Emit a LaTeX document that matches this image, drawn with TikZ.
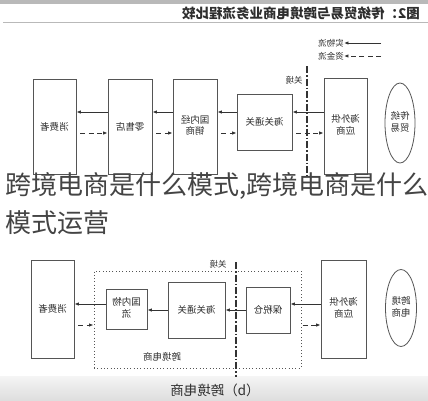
\documentclass[tikz,border=0pt]{standalone}
\usepackage{fontspec}
\usepackage{graphicx}
\usetikzlibrary{arrows.meta,shapes.geometric}
\newfontfamily\cjk{Noto Sans CJK SC}
\newcommand{\mr}[1]{\reflectbox{#1}}
\newcommand{\mrr}[2]{\reflectbox{\begin{tabular}{@{}c@{}}#1\\#2\end{tabular}}}
\definecolor{boxc}{HTML}{555555}
\definecolor{linec}{HTML}{333333}
\definecolor{txtc}{HTML}{2E2E2E}
\definecolor{bigc}{HTML}{444444}
\begin{document}
\begin{tikzpicture}[x=1pt,y=-1pt,
  box/.style={draw=boxc, line width=0.8pt, inner sep=0pt, text=txtc,
    font=\cjk\fontsize{9.5}{11.5}\selectfont},
  ellbox/.style={ellipse, draw=boxc, line width=0.8pt, inner sep=0pt, text=txtc,
    font=\cjk\fontsize{9.5}{11.5}\selectfont},
  sarr/.style={draw=linec, line width=0.9pt, -{Latex[length=4.5pt,width=3.5pt]}},
  darr/.style={sarr, dash pattern=on 5pt off 3.5pt},
  border/.style={draw=linec, line width=1.2pt, dash pattern=on 7pt off 2pt on 1.5pt off 2pt},
  dotbox/.style={draw=boxc, line width=1pt, dash pattern=on 0.9pt off 2.4pt, inner sep=0pt},
  lbl/.style={text=txtc, inner sep=0pt, font=\cjk\fontsize{8.5}{10}\selectfont},
  big/.style={text=bigc, inner sep=0pt, anchor=west, font=\cjk\fontsize{26}{30}\selectfont}
]
\useasboundingbox (0,0) rectangle (428,400);
\fill[white] (0,0) rectangle (428,400);

% header
\fill[gray!55] (0,0) rectangle (428,3.5);
\draw[gray!55, line width=1pt] (3,22) -- (428,22);
\node[text=txtc, inner sep=0pt, font=\cjk\bfseries\fontsize{13.5}{15}\selectfont] (title) at (301,13) {\mr{图2：传统贸易与跨境电商业务流程比较}};

% legend
\node[lbl] (lg1) at (331,43) {\mr{实物流}};
\node[lbl] (lg2) at (331,56) {\mr{资金流}};
\coordinate (lg1e) at (381,43);
\coordinate (lg2e) at (381,56);
\draw[sarr] (lg1e) -- (lg1.east);
\draw[darr] (lg2e) -- (lg2.east);

% ---------- top diagram ----------
\node[box, minimum width=43, minimum height=95] (cons1) at (54.5,126.5) {\mr{消费者}};
\node[box, minimum width=44, minimum height=95] (ret) at (130,126.5) {\mr{零售店}};
\node[box, minimum width=44, minimum height=95] (dom) at (195,126.5) {\mrr{国内经}{销商}};
\node[box, minimum width=55, minimum height=56] (cust1) at (264.5,122) {\mr{海关通关}};
\node[box, minimum width=43, minimum height=96] (sup1) at (345.5,126) {\mrr{海外供}{应商}};
\node[ellbox, minimum width=30, minimum height=80] (ell1) at (400,123) {\mrr{传统}{贸易}};

\coordinate (ys1) at (0,112);
\coordinate (yd1) at (0,133);
\draw[sarr] (ret.west |- ys1) -- (cons1.east |- ys1);
\draw[sarr] (dom.west |- ys1) -- (ret.east |- ys1);
\draw[sarr] (cust1.west |- ys1) -- (dom.east |- ys1);
\draw[sarr] (sup1.west |- ys1) -- (cust1.east |- ys1);
\draw[darr, shorten <=4pt] (cons1.east |- yd1) -- (ret.west |- yd1);
\draw[darr, shorten <=4pt] (ret.east |- yd1) -- (dom.west |- yd1);
\draw[darr, shorten <=4pt] (dom.east |- yd1) -- (cust1.west |- yd1);
\draw[darr, shorten <=4pt] (cust1.east |- yd1) -- (sup1.west |- yd1);

\coordinate (b1t) at (307,66);
\coordinate (b1b) at (307,177);
\draw[border] (b1t) -- (b1b);
\node[lbl] (gj1) at (294,80) {\mr{关境}};

% ---------- overlay text ----------
\node[big] (ov1) at (5,186) {跨境电商是什么模式,跨境电商是什么};
\node[big] (ov2) at (5,223) {模式运营};

% ---------- bottom diagram ----------
\shade[top color=black!4, bottom color=black!13] (0,376) rectangle (428,400);

\node[dotbox, minimum width=207, minimum height=97] (ecom) at (197.5,319.5) {};
\node[box, minimum width=43, minimum height=98] (cons2) at (52.5,309) {\mr{消费者}};
\node[box, minimum width=41, minimum height=40] (log) at (126.5,309) {\mrr{国内物}{流}};
\node[box, minimum width=57, minimum height=56] (cust2) at (196.5,310) {\mr{海关通关}};
\node[box, minimum width=44, minimum height=46] (bond) at (268,310) {\mr{保税仓}};
\node[box, minimum width=45, minimum height=98] (sup2) at (343.5,309) {\mrr{海外供}{应商}};
\node[ellbox, minimum width=31, minimum height=77] (ell2) at (401,308) {\mrr{跨境}{电商}};
\node[lbl, font=\cjk\fontsize{9.5}{11}\selectfont] (ecl) at (162,357) {\mr{跨境电商}};

\coordinate (ys2) at (0,304);
\coordinate (ym2) at (0,310);
\coordinate (yd2) at (0,325);
\draw[sarr] (sup2.west |- ys2) -- (bond.east |- ys2);
\draw[sarr] (bond.west |- ym2) -- (cust2.east |- ym2);
\draw[sarr] (cust2.west |- ym2) -- (log.east |- ym2);
\draw[sarr] (log.west |- ys2) -- (cons2.east |- ys2);
\draw[darr, shorten <=4pt] (cons2.east |- yd2) -- (ecom.west |- yd2);
\draw[darr, shorten <=1pt] (ecom.east |- yd2) -- (sup2.west |- yd2);

\coordinate (b2t) at (236,262);
\coordinate (b2b) at (236,377);
\draw[border] (b2t) -- (b2b);
\node[lbl] (gj2) at (218,264) {\mr{关境}};

\node[text=txtc, inner sep=0pt, font=\cjk\fontsize{13.5}{15}\selectfont] (cap) at (215,390) {\mr{（b）跨境电商}};
\end{tikzpicture}
\end{document}
